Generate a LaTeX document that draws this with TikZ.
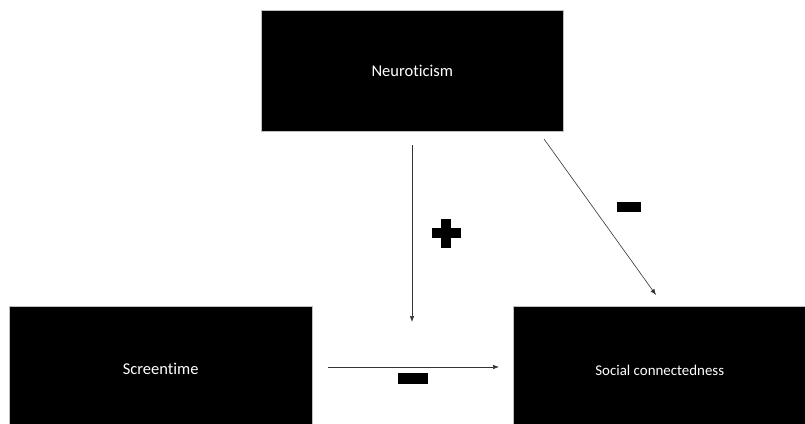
\documentclass[tikz,border=0pt]{standalone}
\usepackage{fontspec}
\setmainfont[Ligatures={NoCommon}]{Carlito}
\usetikzlibrary{arrows.meta}
\begin{document}
\begin{tikzpicture}[x=1pt,y=-1pt,
  box/.style={draw=gray!50,line width=0.5pt,fill=black,text=white,inner sep=0pt,anchor=north west},
  conn/.style={draw=black!80,line width=0.6pt,-{Latex[length=6pt,width=4.5pt]}},
  bar/.style={fill=black,draw=none,inner sep=0pt}]
\useasboundingbox (0,0) rectangle (805,423);
\node[box,minimum width=302pt,minimum height=121pt,text height=15pt,text depth=3.5pt,font=\fontsize{16.5}{18}\selectfont] (neu) at (261,10) {Neuroticism};
\node[box,minimum width=303pt,minimum height=126pt,font=\fontsize{16.5}{18}\selectfont] (scr) at (9,306) {Screentime};
\node[box,minimum width=293pt,minimum height=128pt,font=\fontsize{14.9}{16}\selectfont] (soc) at (513,306) {Social connectedness};
\coordinate (vtop) at (412,145);
\coordinate (vend) at (412,322);
\coordinate (dtop) at (544,139);
\coordinate (dend) at (656,295);
\coordinate (hs) at (328,367);
\coordinate (he) at (499,367);
\draw[conn] (vtop) -- (vend);
\draw[conn] (dtop) -- (dend);
\draw[conn] (hs) -- (he);
% plus sign
\node[bar,minimum width=29pt,minimum height=10pt] (plush) at (446,233) {};
\node[bar,minimum width=10pt,minimum height=29pt] (plusv) at (446,233) {};
% minus signs
\node[bar,minimum width=24pt,minimum height=10pt] (minus1) at (629,207) {};
\node[bar,minimum width=30pt,minimum height=11pt] (minus2) at (413,378.5) {};
\end{tikzpicture}
\end{document}
